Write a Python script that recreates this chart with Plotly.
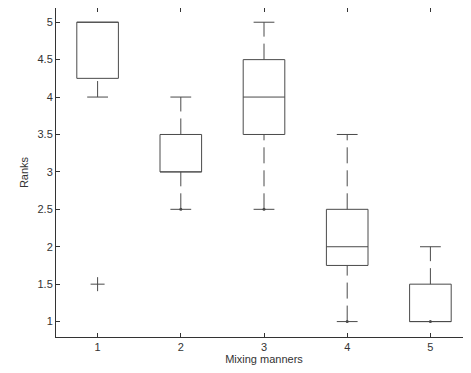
import plotly.graph_objects as go

# Data
categories = [1, 2, 3, 4, 5]
tick_labels = ["1", "2", "3", "4", "5"]
q1 = [4.25, 3.0, 3.5, 1.75, 1.0]
median = [5.0, 3.0, 4.0, 2.0, 1.0]
q3 = [5.0, 3.5, 4.5, 2.5, 1.5]
lower_whisker = [4.0, 2.5, 2.5, 1.0, 1.0]
upper_whisker = [5.0, 4.0, 5.0, 3.5, 2.0]
outlier_x = [1]
outlier_y = [1.5]
dot_x = [2, 3, 4, 5]
dot_y = [2.5, 2.5, 1.0, 1.0]
y_ticks = [1, 1.5, 2, 2.5, 3, 3.5, 4, 4.5, 5]
y_tick_labels = ["1", "1.5", "2", "2.5", "3", "3.5", "4", "4.5", "5"]

BOX_HALF = 0.25
CAP_HALF = 0.125
LINE_COLOR = "#4a4a4a"
TEXT_COLOR = "#333333"
FONT = "Liberation Sans, Arial, sans-serif"
WHISKER_DASH = "16px,7px"

fig = go.Figure()

def add_line(xs, ys, dash="solid"):
    fig.add_trace(go.Scatter(
        x=xs, y=ys, mode="lines",
        line=dict(color=LINE_COLOR, width=1, dash=dash),
        hoverinfo="skip", showlegend=False,
    ))

for i, c in enumerate(categories):
    # box
    add_line([c - BOX_HALF, c + BOX_HALF, c + BOX_HALF, c - BOX_HALF, c - BOX_HALF],
             [q1[i], q1[i], q3[i], q3[i], q1[i]])
    # median
    add_line([c - BOX_HALF, c + BOX_HALF], [median[i], median[i]])
    # whiskers (dashed), both drawn in increasing-value direction
    if upper_whisker[i] > q3[i]:
        add_line([c, c], [q3[i], upper_whisker[i]], dash=WHISKER_DASH)
        add_line([c - CAP_HALF, c + CAP_HALF], [upper_whisker[i], upper_whisker[i]])
    if lower_whisker[i] < q1[i]:
        add_line([c, c], [lower_whisker[i], q1[i]], dash=WHISKER_DASH)
        add_line([c - CAP_HALF, c + CAP_HALF], [lower_whisker[i], lower_whisker[i]])

# outliers
fig.add_trace(go.Scatter(
    x=outlier_x, y=outlier_y, mode="markers",
    marker=dict(symbol="cross-thin-open", size=10, color=LINE_COLOR,
                line=dict(color=LINE_COLOR, width=1)),
    hoverinfo="skip", showlegend=False,
))
# small dots at whisker ends
fig.add_trace(go.Scatter(
    x=dot_x, y=dot_y, mode="markers",
    marker=dict(symbol="circle", size=3, color=LINE_COLOR),
    hoverinfo="skip", showlegend=False,
))

axis_common = dict(
    showgrid=False, zeroline=False, showline=True, linecolor="#333333", linewidth=1,
    mirror="ticks", ticks="inside", ticklen=4, tickcolor="#333333", automargin=False,
    tickfont=dict(family=FONT, size=11, color=TEXT_COLOR),
)

# page body has an 8px default margin, so the figure is sized/margined to compensate
fig.update_layout(
    width=464, height=365,
    margin=dict(l=48, r=0, t=0, b=36),
    plot_bgcolor="white", paper_bgcolor="white",
    xaxis=dict(range=[0.5, 5.5], tickvals=categories, ticktext=tick_labels,
               title=dict(text="Mixing manners", font=dict(family=FONT, size=11, color=TEXT_COLOR), standoff=2),
               **axis_common),
    yaxis=dict(range=[0.794, 5.19], tickvals=y_ticks, ticktext=y_tick_labels,
               title=dict(text="Ranks", font=dict(family=FONT, size=11, color=TEXT_COLOR), standoff=6),
               **axis_common),
)

fig.write_html("out.html")
